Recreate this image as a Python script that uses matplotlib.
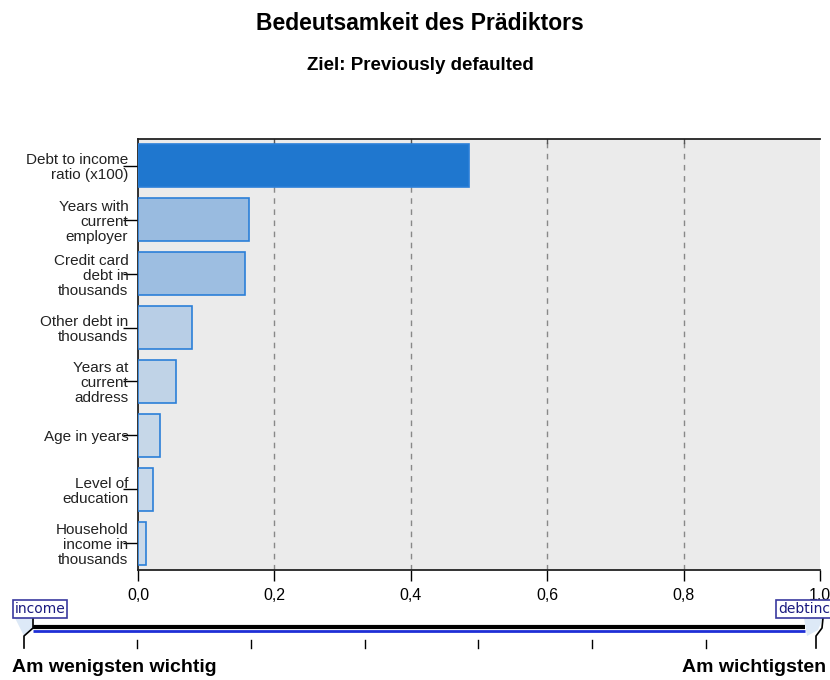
import matplotlib.pyplot as plt
from matplotlib.patches import Polygon

plt.rcParams['font.family'] = ['Liberation Sans', 'DejaVu Sans']

# predictor importance, most important first
labels = ["Debt to income\nratio (x100)", "Years with\ncurrent\nemployer",
          "Credit card\ndebt in\nthousands", "Other debt in\nthousands",
          "Years at\ncurrent\naddress", "Age in years", "Level of\neducation",
          "Household\nincome in\nthousands"]
short_names = ["debtinc", "employ", "creddebt", "othdebt", "address", "age", "ed", "income"]
importance = [0.485, 0.163, 0.157, 0.079, 0.056, 0.032, 0.022, 0.012]
bar_colors = ["#1f77cf", "#99bbe0", "#9dbee1", "#b8cee6", "#c0d3e7",
              "#c6d7e8", "#c8d8e9", "#cad9e9"]
ticks = [0.0, 0.2, 0.4, 0.6, 0.8, 1.0]

fig = plt.figure(figsize=(8.3, 6.8), dpi=100)
W, H = 830, 680

fig.text(420 / W, 1 - 24 / H, "Bedeutsamkeit des Prädiktors", ha="center", va="center",
         fontsize=16.5, fontweight="bold")
fig.text(420 / W, 1 - 66 / H, "Ziel: Previously defaulted", ha="center", va="center",
         fontsize=13.5, fontweight="bold")

ax = fig.add_axes([138 / W, 1 - 570 / H, 682 / W, 431 / H])
ax.set_facecolor("#ebebeb")
pos = list(range(len(labels)))
ax.barh(pos, importance, height=0.8, color=bar_colors, edgecolor="#2b7fd8", linewidth=1.2, zorder=3)
ax.set_xlim(0, 1)
ax.set_ylim(len(labels) - 0.5, -0.5)
ax.set_xticks(ticks)
ax.set_xticklabels([f"{t:.1f}".replace(".", ",") for t in ticks], fontsize=11.5)
ax.set_yticks(pos)
ax.set_yticklabels(labels, fontsize=11, linespacing=1.08, ha="right", multialignment="right",
                   color="#222222")
ax.tick_params(axis="y", length=11, width=1, pad=-4, color="black")
ax.tick_params(axis="x", length=8, width=1, pad=5, color="black", direction="out")
for t in ticks[1:-1]:
    ax.axvline(t, color="#888888", linestyle=(0, (4, 4)), linewidth=1, zorder=1)
    ax.plot([t, t], [-0.5, -0.43], color="#555555", linewidth=1, zorder=2)
for side in ["top", "left", "bottom"]:
    ax.spines[side].set_linewidth(1.3)
    ax.spines[side].set_color("#222222")
ax.spines["right"].set_visible(False)

# importance scale underneath
lg = fig.add_axes([0, 0, 1, 85 / H])
lg.set_xlim(0, W)
lg.set_ylim(680, 595)
lg.axis("off")
lg.plot([33, 805], [627, 627], color="black", linewidth=3, solid_capstyle="butt")
lg.plot([33, 805], [630.5, 630.5], color="#1f2fd6", linewidth=2, solid_capstyle="butt")
for x in [137, 251, 365, 478, 592, 706]:
    lg.plot([x, x], [640, 648], color="black", linewidth=1)

# markers for least and most important predictor
lg.add_patch(Polygon([[15, 618], [34, 618], [33, 628], [24, 636]], closed=True,
                     facecolor="#dde9f7", edgecolor="none", zorder=2))
lg.plot([33, 33, 24, 24], [618, 628, 636, 648], color="black", linewidth=1.2, zorder=3)
lg.add_patch(Polygon([[804, 618], [823, 618], [818, 630], [807, 636]], closed=True,
                     facecolor="#dde9f7", edgecolor="none", zorder=2))
lg.plot([823, 822, 816, 816], [618, 628, 636, 648], color="black", linewidth=1.2, zorder=3)
lg.text(40, 609, short_names[-1], ha="center", va="center", fontsize=10,
        color="#1a1a80", family="DejaVu Sans",
        bbox=dict(boxstyle="square,pad=0.12", facecolor="white", edgecolor="#3a3aa0", linewidth=1.2))
lg.text(778, 609, short_names[0], ha="left", va="center", fontsize=10,
        color="#1a1a80", family="DejaVu Sans",
        bbox=dict(boxstyle="square,pad=0.12", facecolor="white", edgecolor="#3a3aa0", linewidth=1.2))

lg.text(12, 667, "Am wenigsten wichtig", ha="left", va="center", fontsize=14, fontweight="bold")
lg.text(826, 667, "Am wichtigsten", ha="right", va="center", fontsize=14, fontweight="bold")

fig.savefig("out.png", dpi=100)
